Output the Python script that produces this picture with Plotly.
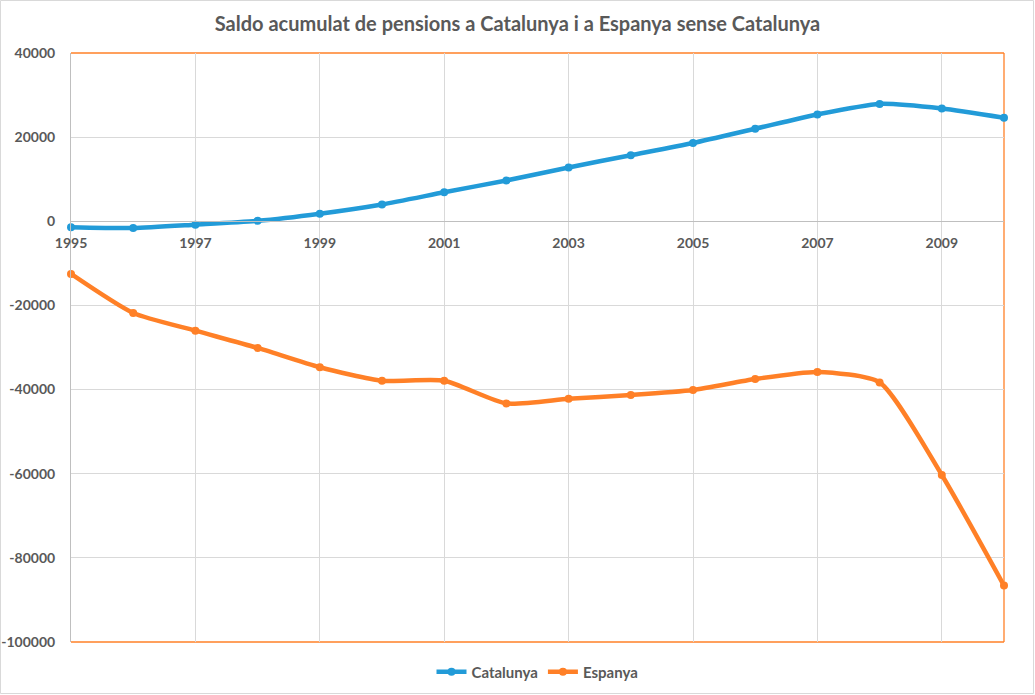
import plotly.graph_objects as go

years = list(range(1995, 2011))
catalunya = [-1400, -1600, -800, 100, 1800, 4000, 6900, 9700, 12800, 15700,
             18600, 22000, 25400, 27900, 26800, 24600]
espanya = [-12500, -21800, -26000, -30100, -34700, -37900, -37900, -43300,
           -42200, -41300, -40100, -37500, -35800, -38300, -60300, -86600]
year_ticks = list(range(1995, 2011, 2))
y_ticks = [40000, 20000, 0, -20000, -40000, -60000, -80000, -100000]

BLUE = "#229BD8"
ORANGE = "#FF8027"
GREY_TXT = "#595959"
FONT = "Lato"

W, H = 1035, 695
ML, MR, MT, MB = 71, 31, 53, 53
pw, ph = W - ML - MR, H - MT - MB

fig = go.Figure()
fig.add_trace(go.Scatter(x=years, y=catalunya, name="<b>Catalunya</b>", cliponaxis=False,
                         mode="lines+markers", line=dict(color=BLUE, width=4.5, shape="spline", smoothing=0.6),
                         marker=dict(size=8, color=BLUE)))
fig.add_trace(go.Scatter(x=years, y=espanya, name="<b>Espanya</b>", cliponaxis=False,
                         mode="lines+markers", line=dict(color=ORANGE, width=4.5, shape="spline", smoothing=0.6),
                         marker=dict(size=8, color=ORANGE)))

ymin, ymax = -100000, 40000
zero_pos = (0 - ymin) / (ymax - ymin)

fig.update_layout(
    width=W, height=H,
    margin=dict(l=ML, r=MR, t=MT, b=MB, autoexpand=False),
    paper_bgcolor="white", plot_bgcolor="white",
    title=dict(text="<b>Saldo acumulat de pensions a Catalunya i a Espanya sense Catalunya</b>",
               x=0.5, xanchor="center", y=1 - 24 / H, yanchor="middle",
               font=dict(family=FONT, size=20, color=GREY_TXT)),
    showlegend=True,
    legend=dict(orientation="h", x=0.5, xanchor="center", y=-(672 - MT - ph) / ph, yanchor="middle",
                font=dict(family=FONT, size=15, color=GREY_TXT), itemwidth=30, tracegroupgap=0),
    xaxis=dict(range=[1995, 2010], tickvals=year_ticks, ticktext=[f"<b>{y}</b>" for y in year_ticks],
               anchor="free", position=zero_pos, showgrid=True, gridcolor="#D9D9D9", gridwidth=1,
               showline=True, linecolor="#BFBFBF", linewidth=1, ticks="", zeroline=False,
               ticklabelstandoff=9, automargin=False,
               tickfont=dict(family=FONT, size=14, color=GREY_TXT)),
    yaxis=dict(range=[ymin, ymax], tickvals=y_ticks, ticktext=[f"<b>{v}</b>" for v in y_ticks],
               showgrid=True, gridcolor="#D9D9D9", gridwidth=1, zeroline=False,
               showline=True, linecolor="#BFBFBF", linewidth=1, ticks="", ticklabelstandoff=12,
               automargin=False,
               tickfont=dict(family=FONT, size=14, color=GREY_TXT)),
)

# plot-area border lines (top, right, bottom orange)
for x0, y0, x1, y1 in [(0, 1, 1, 1), (1, 0, 1, 1), (0, 0, 1, 0)]:
    fig.add_shape(type="line", xref="paper", yref="paper", x0=x0, y0=y0, x1=x1, y1=y1,
                  line=dict(color=ORANGE, width=1.3), layer="below")

# outer chart frame
fig.add_shape(type="rect", xref="paper", yref="paper",
              x0=(-ML + 0.5) / pw, x1=1 + (MR - 1.5) / pw,
              y0=(-MB + 1.5) / ph, y1=1 + (MT - 0.5) / ph,
              line=dict(color="#D9D9D9", width=1), layer="below")

fig.write_html("out.html", config={"displayModeBar": False},
               post_script="document.body.style.margin='0';")
